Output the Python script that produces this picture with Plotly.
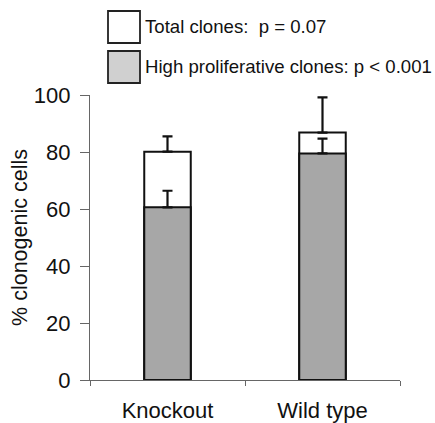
import plotly.graph_objects as go

categories = ["Knockout", "Wild type"]
total_clones = [80.1, 86.8]
total_err = [5.4, 12.4]
high_prolif = [60.6, 79.5]
high_err = [5.8, 5.2]
legend_labels = ["Total clones:&nbsp; p = 0.07", "High proliferative clones: p < 0.001"]
y_ticks = [0, 20, 40, 60, 80, 100]

FONT = "Liberation Sans, Arial, sans-serif"
W, H = 435, 423
ML, MR, MT, MB = 90, 35, 95, 43
PW, PH = W - ML - MR, H - MT - MB

fig = go.Figure()
fig.add_trace(go.Bar(
    x=categories, y=total_clones, width=0.3,
    marker=dict(color="white", line=dict(color="#111", width=2)),
    error_y=dict(type="data", array=total_err, arrayminus=[0, 0], symmetric=False,
                 color="#111", thickness=2.2, width=5),
    showlegend=False, hoverinfo="skip",
))
fig.add_trace(go.Bar(
    x=categories, y=high_prolif, width=0.3,
    marker=dict(color="#a7a7a7", line=dict(color="#111", width=2)),
    error_y=dict(type="data", array=high_err, arrayminus=[0, 0], symmetric=False,
                 color="#111", thickness=2.2, width=5),
    showlegend=False, hoverinfo="skip",
))

def px2paper(x, y):
    return (x - ML) / PW, (H - MB - y) / PH

legend_fills = ["white", "#d0d0d0"]
legend_boxes = [(108, 11, 140, 43), (108, 51, 140, 83)]
shapes = []
annotations = []
for (x0, y0, x1, y1), fill, label in zip(legend_boxes, legend_fills, legend_labels):
    px0, py0 = px2paper(x0, y1)
    px1, py1 = px2paper(x1, y0)
    shapes.append(dict(type="rect", xref="paper", yref="paper", x0=px0, x1=px1, y0=py0, y1=py1,
                       fillcolor=fill, line=dict(color="#222", width=1.8)))
    tx, ty = px2paper(143, (y0 + y1) / 2)
    annotations.append(dict(xref="paper", yref="paper", x=tx, y=ty, text=label, showarrow=False,
                            xanchor="left", yanchor="middle", font=dict(size=18.6, color="#111", family=FONT)))

fig.update_layout(
    width=W, height=H,
    margin=dict(l=ML, r=MR, t=MT, b=MB, autoexpand=False),
    barmode="overlay",
    plot_bgcolor="white", paper_bgcolor="white",
    font=dict(family=FONT, size=22, color="#111"),
    shapes=shapes, annotations=annotations,
    xaxis=dict(showline=True, linecolor="#666", linewidth=1.2, ticks="outside", tickson="boundaries",
               ticklen=5, tickcolor="#666", showgrid=False, tickfont=dict(size=22),
               ticklabelstandoff=10, automargin=False),
    yaxis=dict(range=[0, 100], tickvals=y_ticks, showline=True, linecolor="#666", linewidth=1.2,
               ticks="outside", ticklen=9, tickcolor="#666", showgrid=False, zeroline=False,
               tickfont=dict(size=22), ticklabelstandoff=5, automargin=False,
               title=dict(text="% clonogenic cells", font=dict(size=21.5), standoff=0)),
)

fig.write_html("out.html", config={"displayModeBar": False, "staticPlot": True},
               post_script="document.body.style.margin='0';document.body.style.overflow='hidden';")
